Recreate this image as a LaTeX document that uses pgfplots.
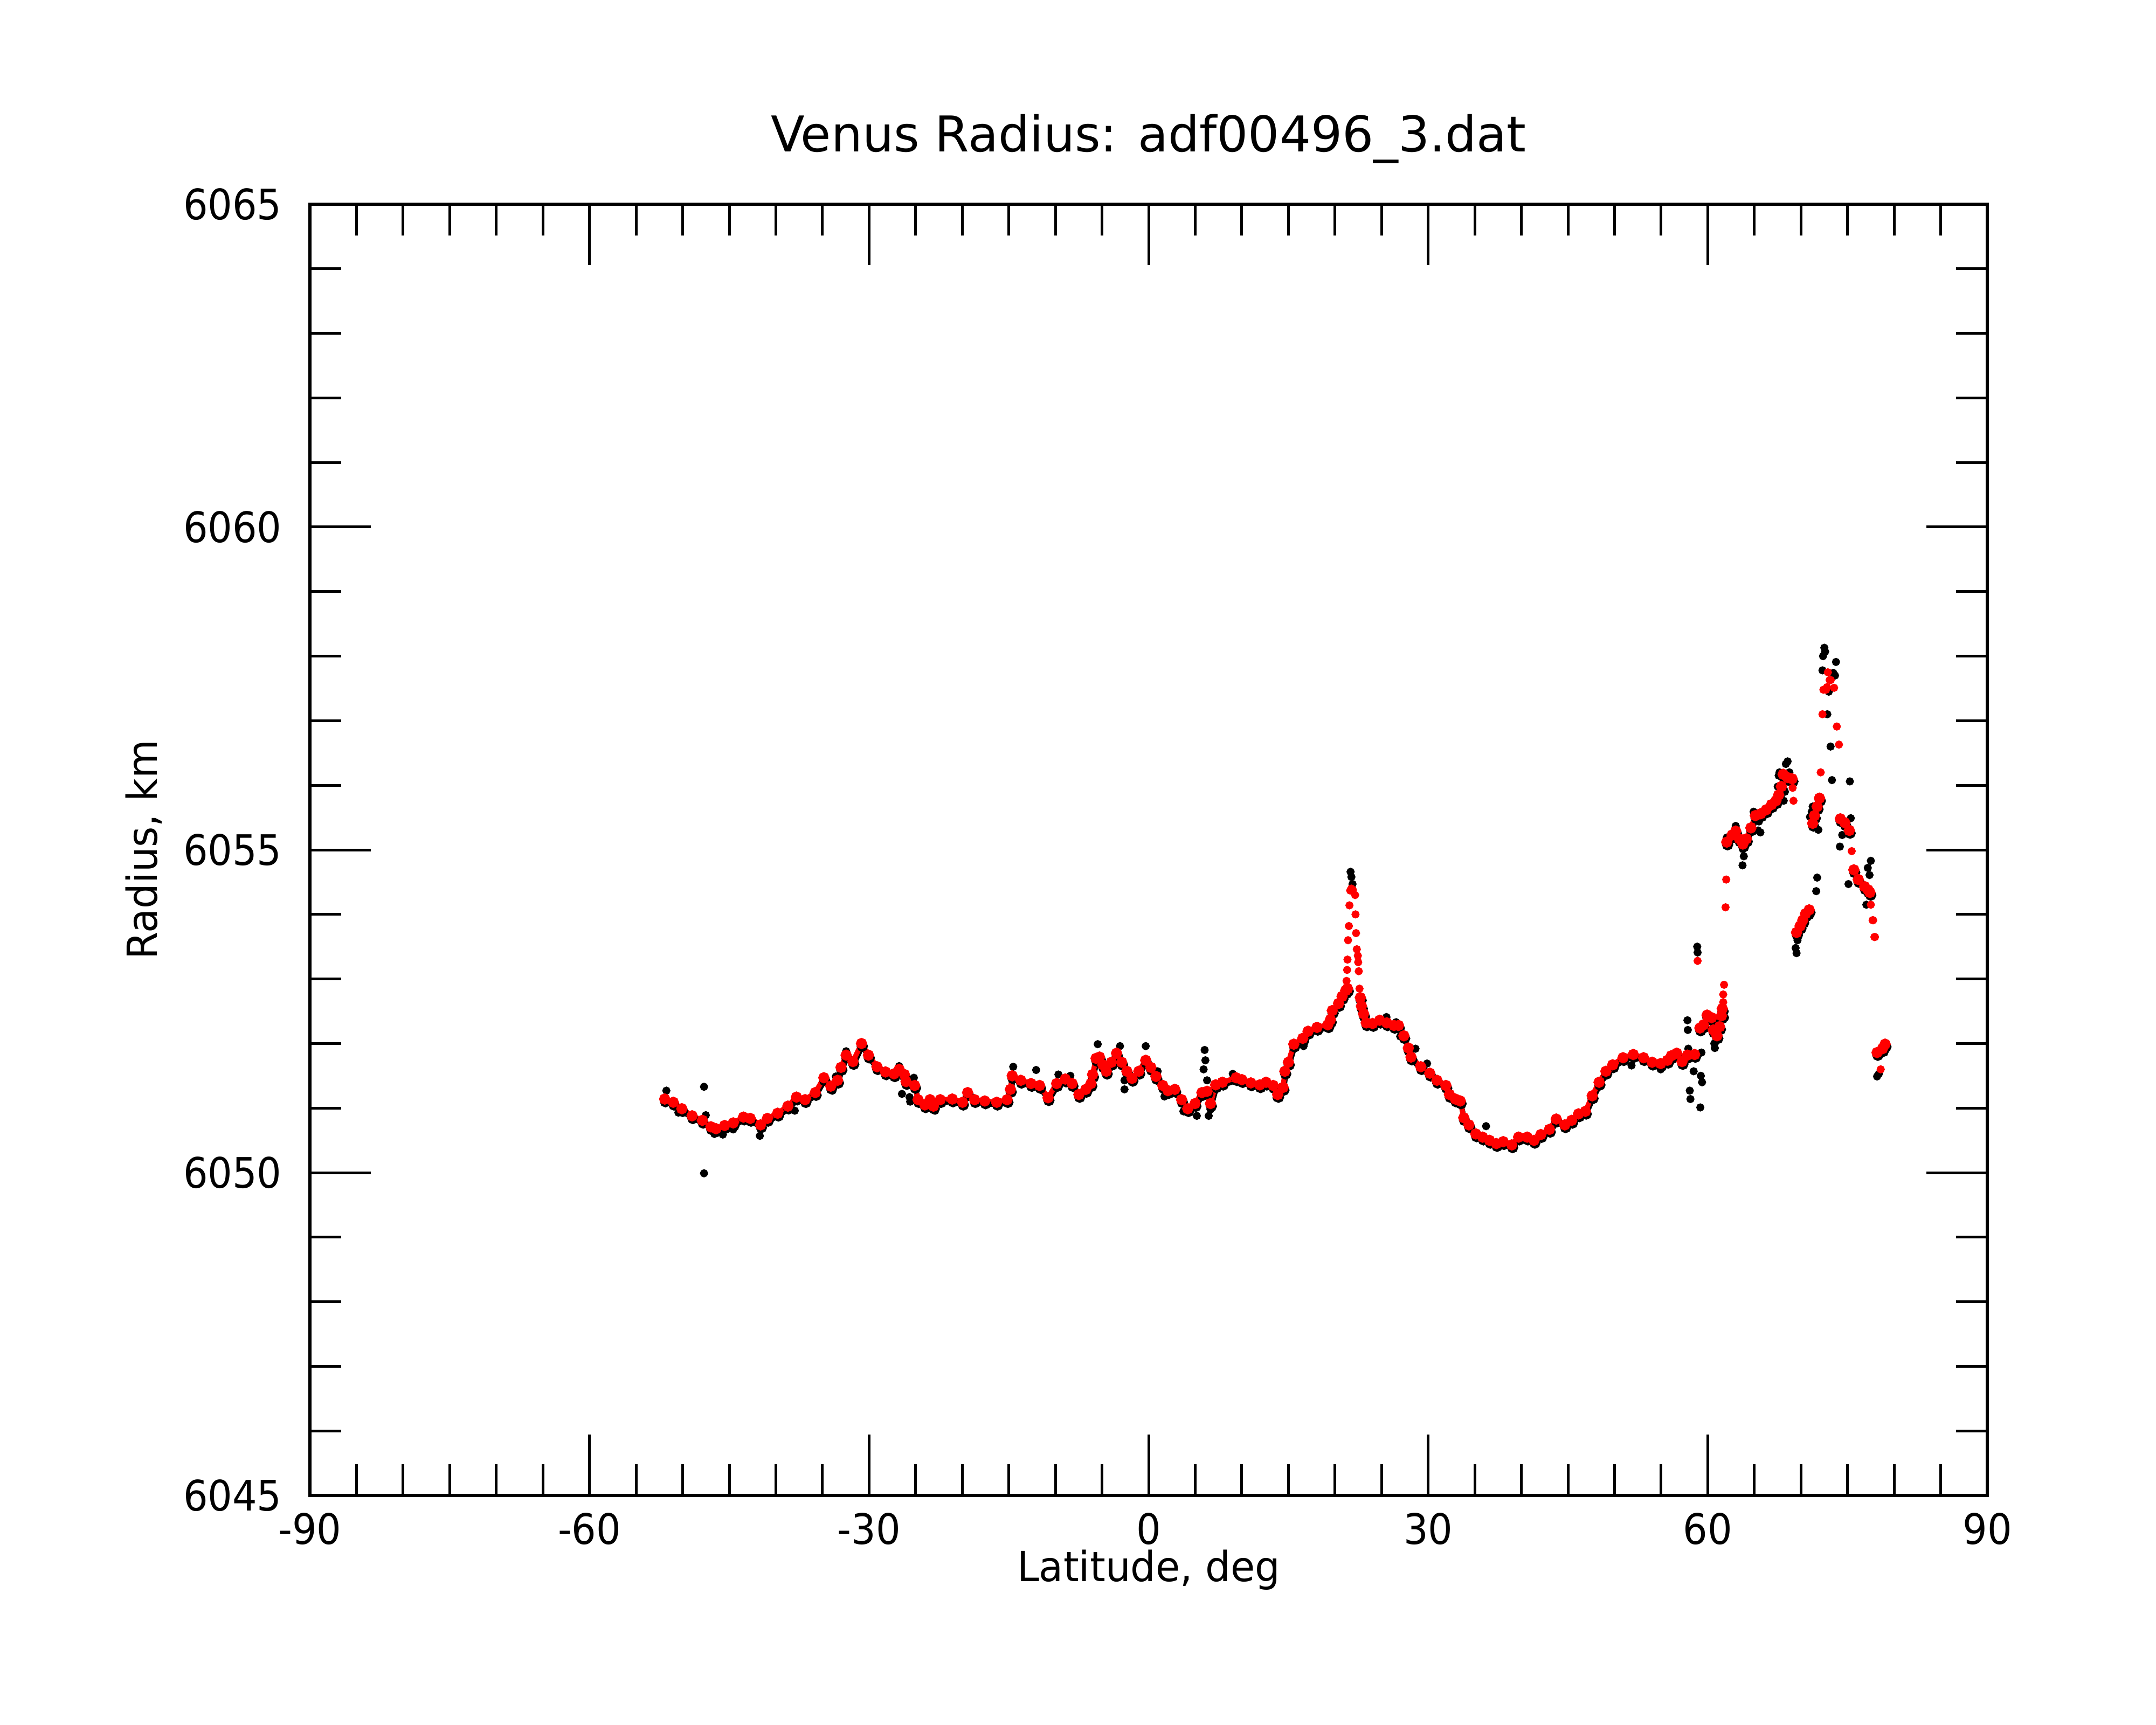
\documentclass[border=0pt]{standalone}
\usepackage{pgfplots}
\pgfplotsset{compat=1.18}
\usepackage{pgfplotstable}
\usepackage{fontspec}
\setmainfont{DejaVu Sans}
\newfontfamily\tickfont{DejaVu Sans}[FakeStretch=0.92]
\newfontfamily\labfont{DejaVu Sans}[FakeStretch=0.955]

\pgfplotstableread{
lat r
-51.93 6051.14
-51.01 6051.09
-50.09 6050.99
-48.99 6050.88
-47.89 6050.81
-46.97 6050.71
-46.42 6050.68
-45.50 6050.73
-44.58 6050.77
-43.48 6050.86
-42.75 6050.84
-41.64 6050.74
-40.91 6050.84
-39.81 6050.92
-38.71 6051.03
-37.79 6051.17
-36.87 6051.13
-35.77 6051.24
-34.85 6051.47
-34.11 6051.34
-33.38 6051.43
-33.01 6051.63
-32.46 6051.82
-31.73 6051.72
-30.81 6052.00
-30.07 6051.82
-29.15 6051.64
-28.24 6051.56
-27.32 6051.53
-26.77 6051.60
-26.21 6051.52
-26.03 6051.41
-25.11 6051.35
-24.74 6051.13
-24.01 6051.05
-23.46 6051.13
-23.09 6051.03
-22.36 6051.13
-21.07 6051.14
-19.97 6051.09
-19.42 6051.24
-18.68 6051.13
-17.58 6051.11
-16.30 6051.09
-15.19 6051.13
-14.83 6051.29
-14.64 6051.50
-13.72 6051.43
-12.62 6051.38
-11.70 6051.35
-10.79 6051.16
-9.87 6051.38
-8.95 6051.45
-8.21 6051.38
-7.48 6051.21
-6.74 6051.29
-6.19 6051.38
-6.01 6051.52
-5.64 6051.77
-5.27 6051.79
-4.91 6051.67
-4.54 6051.57
-3.99 6051.71
-3.44 6051.85
-2.89 6051.71
-2.33 6051.57
-1.78 6051.46
-1.05 6051.57
-0.31 6051.74
0.24 6051.63
0.79 6051.49
1.52 6051.35
2.07 6051.27
2.81 6051.29
3.54 6051.13
4.20 6050.99
4.98 6051.07
5.72 6051.24
6.27 6051.26
6.64 6051.07
7.19 6051.36
7.92 6051.40
9.39 6051.47
10.01 6051.44
10.97 6051.39
11.93 6051.36
12.60 6051.40
13.37 6051.35
13.85 6051.21
14.43 6051.32
14.62 6051.57
15.00 6051.71
15.58 6051.99
16.54 6052.08
17.11 6052.19
18.07 6052.25
19.23 6052.29
19.51 6052.37
19.71 6052.51
20.38 6052.62
20.76 6052.73
21.15 6052.82
21.34 6052.85
nan nan
22.72 6052.71
22.84 6052.58
23.07 6052.46
23.35 6052.32
24.03 6052.31
24.80 6052.36
25.56 6052.32
26.33 6052.28
26.81 6052.28
27.39 6052.12
27.87 6051.93
28.16 6051.79
29.21 6051.64
30.17 6051.54
30.94 6051.43
31.90 6051.35
32.28 6051.21
32.91 6051.14
33.44 6051.11
33.82 6050.85
34.37 6050.74
35.11 6050.60
35.84 6050.55
36.58 6050.50
37.31 6050.45
38.05 6050.48
38.97 6050.43
39.70 6050.55
40.62 6050.55
41.36 6050.50
42.09 6050.59
43.01 6050.67
43.74 6050.83
44.66 6050.74
45.40 6050.81
46.13 6050.91
46.87 6050.95
47.60 6051.19
48.34 6051.40
49.07 6051.57
49.80 6051.67
50.91 6051.78
52.01 6051.83
53.11 6051.78
54.03 6051.71
54.95 6051.69
55.68 6051.74
56.09 6051.81
56.67 6051.85
57.24 6051.72
57.82 6051.82
58.59 6051.83
nan nan
59.16 6052.24
59.55 6052.29
59.93 6052.44
60.41 6052.40
60.60 6052.21
60.99 6052.12
61.27 6052.26
61.47 6052.43
61.56 6052.54
nan nan
62.04 6055.12
62.62 6055.23
63.00 6055.29
63.39 6055.17
63.77 6055.09
64.15 6055.17
64.63 6055.34
65.11 6055.53
65.69 6055.56
66.27 6055.62
66.84 6055.70
67.32 6055.76
67.61 6055.85
67.90 6055.98
68.09 6056.17
68.57 6056.12
69.05 6056.10
nan nan
69.53 6053.72
69.91 6053.82
70.20 6053.91
70.49 6054.01
70.88 6054.07
nan nan
71.26 6055.41
71.45 6055.53
71.74 6055.67
71.99 6055.80
nan nan
74.23 6055.48
74.71 6055.42
75.19 6055.30
nan nan
75.68 6054.69
76.15 6054.54
76.83 6054.43
77.20 6054.38
77.40 6054.34
nan nan
78.17 6051.86
78.75 6051.92
79.03 6051.99
}\redline

\pgfplotstableread{
lat r
21.24 6052.97
21.30 6053.14
21.34 6053.30
21.40 6053.60
21.49 6053.82
21.55 6054.14
21.63 6054.37
21.75 6054.40
21.92 6054.38
22.16 6054.30
22.20 6054.00
22.26 6053.71
22.34 6053.46
22.45 6053.36
22.49 6053.26
22.55 6053.12
22.63 6052.85
58.91 6053.28
61.66 6052.64
61.66 6052.76
61.75 6052.91
61.91 6054.11
61.98 6054.54
69.11 6055.96
69.20 6055.76
72.12 6056.20
72.31 6057.10
72.41 6057.48
72.70 6057.48
72.80 6057.52
72.89 6057.75
73.08 6057.63
73.20 6057.63
73.56 6057.51
73.85 6056.91
74.08 6056.63
75.45 6054.98
77.50 6054.15
77.69 6053.91
77.75 6053.91
77.88 6053.65
77.95 6053.65
78.56 6051.60
}\reddots

\pgfplotstableread{
lat r
-51.75 6051.27
-50.46 6050.93
-47.71 6051.33
-47.71 6049.99
-47.52 6050.89
-46.60 6050.60
-45.69 6050.59
-44.58 6050.67
-41.72 6050.57
-37.97 6050.96
-33.93 6051.27
-33.56 6051.49
-32.46 6051.88
-26.77 6051.65
-26.47 6051.22
-25.66 6051.17
-25.59 6051.10
-25.19 6051.47
-22.91 6050.96
-14.53 6051.64
-12.07 6051.59
-9.68 6051.52
-8.40 6051.50
-5.46 6051.99
-3.07 6051.96
-2.59 6051.43
-2.59 6051.29
-0.31 6051.96
0.97 6051.57
1.70 6051.18
3.73 6050.95
5.17 6050.88
6.45 6050.88
6.01 6051.90
6.09 6051.74
5.90 6051.60
6.27 6051.43
6.64 6050.98
9.03 6051.53
13.73 6051.16
16.63 6051.96
21.67 6054.66
21.76 6054.58
21.88 6054.47
25.52 6052.41
26.56 6052.33
27.00 6052.11
28.21 6051.74
28.64 6051.92
29.88 6051.69
36.21 6050.72
51.82 6051.66
54.95 6051.60
57.82 6052.36
57.86 6052.21
57.91 6051.92
58.07 6051.27
58.14 6051.14
58.49 6051.57
58.87 6053.50
58.91 6053.41
59.20 6051.01
59.26 6051.50
59.32 6051.86
59.39 6051.40
60.70 6052.00
60.76 6051.93
61.18 6052.08
61.85 6052.40
62.04 6055.19
63.00 6055.37
63.73 6054.76
63.77 6055.01
63.87 6054.90
64.92 6055.59
65.40 6055.30
65.50 6055.44
65.65 6055.27
67.51 6055.98
67.61 6056.15
67.70 6056.20
68.15 6055.76
68.28 6055.90
68.38 6056.33
68.57 6056.37
68.76 6056.20
69.43 6053.48
69.53 6053.40
69.63 6053.60
70.97 6053.98
70.97 6055.51
71.16 6055.59
71.26 6055.67
71.64 6054.36
71.74 6054.57
71.87 6055.31
72.31 6057.78
72.37 6058.00
72.51 6058.13
72.60 6058.07
72.83 6057.10
72.99 6057.45
73.18 6056.60
73.33 6056.08
73.47 6057.74
73.66 6057.70
73.76 6057.91
74.18 6055.05
74.43 6055.23
75.10 6054.47
75.25 6056.06
75.35 6055.49
77.02 6054.15
77.17 6054.72
77.36 6054.61
77.50 6054.83
78.17 6051.49
78.36 6051.53
}\blackdots

\begin{document}
\begin{tikzpicture}
\begin{axis}[
  name=ax,
  scale only axis,
  width=311.2pt, height=239.6pt,
  xmin=-90, xmax=90, ymin=6045, ymax=6065,
  xtick={-90,-60,-30,0,30,60,90},
  ytick={6045,6050,6055,6060,6065},
  minor x tick num=5,
  minor y tick num=4,
  tick align=inside,
  major tick length=11.3pt,
  minor tick length=5.8pt,
  axis line style={line width=0.58pt},
  every tick/.style={black, line width=0.5pt},
  scaled y ticks=false,
  /pgf/number format/1000 sep={},
  /pgf/number format/assume math mode=true,
  tick label style={font=\tickfont\fontsize{7.8}{9}\selectfont},
  xticklabel style={yshift=0.3pt},
  yticklabel style={xshift=-1.7pt},
  every axis title/.style={at={(axis description cs:0.5,1)}, anchor=base, yshift=9.7pt, font=\fontsize{9.15}{11}\selectfont},
  every axis x label/.style={at={(axis description cs:0.5,0)}, anchor=base, yshift=-15.9pt, font=\labfont\fontsize{7.7}{9}\selectfont},
  every axis y label/.style={at={(axis description cs:0,0.5)}, xshift=-28.3pt, rotate=90, anchor=base, font=\labfont\fontsize{7.7}{9}\selectfont},
  title={Venus Radius: adf00496\_3.dat},
  xlabel={Latitude, deg},
  ylabel={Radius, km},
  unbounded coords=jump,
  clip=false,
]
\addplot[black, line width=0.95pt, mark=*, mark size=0.55pt, yshift=-0.5pt, xshift=0.15pt] table[x=lat, y=r] {\redline};
\addplot[black, only marks, mark=*, mark size=0.55pt] table[x=lat, y=r] {\blackdots};
\addplot[red, line width=0.95pt, mark=*, mark size=0.55pt] table[x=lat, y=r] {\redline};
\addplot[red, only marks, mark=*, mark size=0.55pt] table[x=lat, y=r] {\reddots};
\end{axis}
\path (ax.south west) ++(-57.5pt,-42.5pt) rectangle ([xshift=31.3pt,yshift=37.9pt]ax.north east);
\end{tikzpicture}
\end{document}
